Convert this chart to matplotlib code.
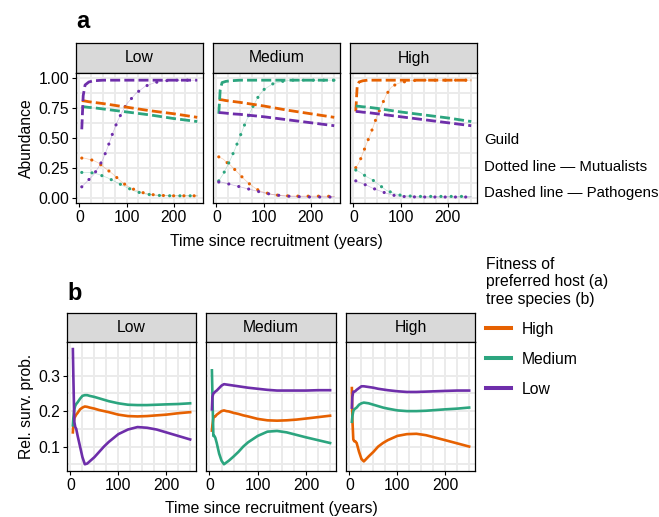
import matplotlib
matplotlib.use("Agg")
import matplotlib.pyplot as plt
from matplotlib.lines import Line2D
from matplotlib.ticker import MultipleLocator, FixedLocator

plt.rcParams['font.family'] = ['Liberation Sans', 'DejaVu Sans']

FS = 11.3

# facettes et niveaux de fitness
PANELS = ["Low", "Medium", "High"]
FITNESS = ["High", "Medium", "Low"]
COLORS = {"High": "#E66101", "Medium": "#2CA57F", "Low": "#6E2EAA"}

# --- a : abondance ---
T_MUT = [5, 10, 15, 20, 30, 40, 50, 60, 70, 80, 90, 100, 120, 140, 160, 180, 200, 225, 250]
T_PATH = [5, 8, 12, 20, 30, 50, 100, 150, 200, 250]

MUT_LOW = {
    "High":   [0.33, 0.33, 0.325, 0.32, 0.31, 0.29, 0.26, 0.23, 0.20, 0.165, 0.13, 0.10, 0.06, 0.035, 0.022, 0.017, 0.015, 0.015, 0.015],
    "Medium": [0.21, 0.21, 0.21, 0.21, 0.205, 0.195, 0.18, 0.165, 0.145, 0.125, 0.105, 0.085, 0.05, 0.03, 0.02, 0.016, 0.015, 0.015, 0.015],
    "Low":    [0.09, 0.11, 0.13, 0.15, 0.19, 0.25, 0.32, 0.42, 0.53, 0.63, 0.71, 0.78, 0.87, 0.93, 0.96, 0.975, 0.98, 0.98, 0.98],
}
MUT_MEDIUM = {
    "High":   [0.34, 0.33, 0.32, 0.30, 0.27, 0.23, 0.19, 0.15, 0.115, 0.085, 0.06, 0.045, 0.025, 0.016, 0.013, 0.012, 0.012, 0.012, 0.01],
    "Medium": [0.14, 0.17, 0.20, 0.24, 0.32, 0.41, 0.51, 0.61, 0.70, 0.78, 0.85, 0.90, 0.95, 0.97, 0.98, 0.98, 0.98, 0.98, 0.98],
    "Low":    [0.13, 0.13, 0.125, 0.12, 0.11, 0.10, 0.09, 0.08, 0.07, 0.06, 0.05, 0.04, 0.025, 0.015, 0.01, 0.007, 0.005, 0.005, 0.005],
}
MUT_HIGH = {
    "High":   [0.25, 0.28, 0.32, 0.37, 0.47, 0.57, 0.68, 0.77, 0.86, 0.92, 0.945, 0.96, 0.975, 0.98, 0.98, 0.98, 0.98, 0.98, 0.98],
    "Medium": [0.23, 0.22, 0.21, 0.195, 0.17, 0.15, 0.12, 0.09, 0.06, 0.045, 0.03, 0.02, 0.013, 0.01, 0.01, 0.01, 0.01, 0.01, 0.01],
    "Low":    [0.14, 0.13, 0.125, 0.115, 0.10, 0.08, 0.065, 0.05, 0.036, 0.025, 0.015, 0.01, 0.007, 0.005, 0.005, 0.005, 0.005, 0.005, 0.005],
}

PATH_LOW = {
    "High":   [0.81, 0.808, 0.806, 0.80, 0.795, 0.785, 0.755, 0.725, 0.70, 0.67],
    "Medium": [0.76, 0.758, 0.757, 0.753, 0.75, 0.74, 0.715, 0.69, 0.66, 0.635],
    "Low":    [0.57, 0.85, 0.94, 0.965, 0.975, 0.98, 0.98, 0.98, 0.98, 0.98],
}
PATH_MEDIUM = {
    "High":   [0.82, 0.818, 0.816, 0.81, 0.805, 0.795, 0.765, 0.73, 0.70, 0.67],
    "Medium": [0.70, 0.90, 0.96, 0.97, 0.975, 0.98, 0.98, 0.98, 0.98, 0.98],
    "Low":    [0.71, 0.709, 0.708, 0.705, 0.70, 0.695, 0.675, 0.65, 0.625, 0.60],
}
PATH_HIGH = {
    "High":   [0.72, 0.93, 0.965, 0.975, 0.98, 0.98, 0.98, 0.98, 0.98, 0.98],
    "Medium": [0.765, 0.763, 0.762, 0.758, 0.755, 0.745, 0.715, 0.69, 0.665, 0.635],
    "Low":    [0.72, 0.718, 0.717, 0.713, 0.71, 0.70, 0.675, 0.65, 0.625, 0.60],
}

# --- b : probabilite de survie relative ---
T_SURV = [5, 6, 8, 10, 12, 15, 20, 25, 30, 35, 40, 50, 60, 70, 80, 100, 120, 140, 160, 180, 200, 225, 250]

SURV_LOW = {
    "High":   [0.14, 0.16, 0.18, 0.185, 0.19, 0.195, 0.205, 0.21, 0.213, 0.212, 0.21, 0.207, 0.203, 0.2, 0.197, 0.19, 0.186, 0.185, 0.186, 0.188, 0.19, 0.194, 0.197],
    "Medium": [0.16, 0.18, 0.205, 0.215, 0.22, 0.225, 0.235, 0.243, 0.245, 0.245, 0.243, 0.24, 0.236, 0.232, 0.228, 0.222, 0.218, 0.217, 0.217, 0.218, 0.219, 0.22, 0.222],
    "Low":    [0.375, 0.3, 0.17, 0.155, 0.15, 0.13, 0.10, 0.07, 0.05, 0.052, 0.058, 0.07, 0.085, 0.1, 0.113, 0.135, 0.148, 0.155, 0.153, 0.148, 0.14, 0.13, 0.12],
}
SURV_MEDIUM = {
    "High":   [0.145, 0.16, 0.18, 0.185, 0.185, 0.19, 0.195, 0.2, 0.202, 0.2, 0.199, 0.195, 0.192, 0.188, 0.185, 0.178, 0.174, 0.173, 0.174, 0.176, 0.179, 0.183, 0.187],
    "Medium": [0.315, 0.25, 0.13, 0.13, 0.125, 0.11, 0.08, 0.06, 0.05, 0.055, 0.06, 0.072, 0.085, 0.1, 0.112, 0.13, 0.142, 0.144, 0.14, 0.133, 0.126, 0.118, 0.11],
    "Low":    [0.205, 0.24, 0.25, 0.252, 0.255, 0.258, 0.265, 0.272, 0.276, 0.275, 0.274, 0.272, 0.27, 0.268, 0.266, 0.263, 0.26, 0.258, 0.258, 0.258, 0.258, 0.259, 0.259],
}
SURV_HIGH = {
    "High":   [0.265, 0.18, 0.12, 0.115, 0.115, 0.11, 0.085, 0.065, 0.058, 0.065, 0.072, 0.085, 0.1, 0.11, 0.118, 0.13, 0.135, 0.136, 0.132, 0.125, 0.118, 0.109, 0.1],
    "Medium": [0.17, 0.185, 0.2, 0.205, 0.207, 0.21, 0.218, 0.222, 0.224, 0.223, 0.222, 0.218, 0.214, 0.21, 0.207, 0.202, 0.2, 0.2, 0.201, 0.203, 0.205, 0.207, 0.21],
    "Low":    [0.21, 0.24, 0.255, 0.255, 0.256, 0.26, 0.265, 0.27, 0.27, 0.269, 0.268, 0.266, 0.263, 0.261, 0.259, 0.256, 0.254, 0.254, 0.255, 0.256, 0.257, 0.258, 0.258],
}

A_YTICKS = [0.0, 0.25, 0.5, 0.75, 1.0]
B_YTICKS = [0.1, 0.2, 0.3]
X_TICKS = [0, 100, 200]

MUT = [MUT_LOW, MUT_MEDIUM, MUT_HIGH]
PATH = [PATH_LOW, PATH_MEDIUM, PATH_HIGH]
SURV = [SURV_LOW, SURV_MEDIUM, SURV_HIGH]

W, H = 659, 517
fig = plt.figure(figsize=(W / 100, H / 100), dpi=100)


def px_axes(x0, y0, x1, y1):
    # coordonnees en pixels (origine en haut a gauche)
    return fig.add_axes([x0 / W, 1 - y1 / H, (x1 - x0) / W, (y1 - y0) / H])


def style_panel(ax, ylim, yticks, yminor, first):
    ax.set_xlim(-7.25, 262.25)
    ax.set_ylim(*ylim)
    ax.xaxis.set_major_locator(FixedLocator(X_TICKS))
    ax.xaxis.set_minor_locator(MultipleLocator(25))
    ax.yaxis.set_major_locator(FixedLocator(yticks))
    ax.yaxis.set_minor_locator(MultipleLocator(yminor))
    ax.grid(True, which='both', color='#EBEBEB', lw=1.4, zorder=0)
    ax.set_axisbelow(True)
    ax.tick_params(which='major', length=3, width=0.8, labelsize=FS, pad=2, color='black')
    ax.tick_params(which='minor', length=0)
    for s in ax.spines.values():
        s.set_linewidth(0.9)
        s.set_color('black')
    if not first:
        ax.tick_params(axis='y', which='major', length=0, labelleft=False)


def strip(x0, y0, x1, y1, label):
    sa = px_axes(x0, y0, x1, y1)
    sa.set_facecolor('#D9D9D9')
    sa.set_xticks([])
    sa.set_yticks([])
    for s in sa.spines.values():
        s.set_linewidth(0.9)
    sa.text(0.5, 0.5, label, ha='center', va='center', fontsize=FS, transform=sa.transAxes)


# panneau a
A_X = [(76, 203), (213, 340), (350, 477)]
for i, name in enumerate(PANELS):
    x0, x1 = A_X[i]
    strip(x0, 43, x1, 73, name)
    ax = px_axes(x0, 73, x1, 203)
    style_panel(ax, (-0.045, 1.04), A_YTICKS, 0.125, i == 0)
    if i == 0:
        ax.yaxis.set_major_formatter(lambda v, p: f"{v:.2f}")
    for f in FITNESS:
        ax.plot(T_MUT, MUT[i][f], color=COLORS[f], lw=0.5, alpha=0.3, zorder=2)
        ax.plot(T_MUT, MUT[i][f], color=COLORS[f], lw=2.3, ls=(0, (0.01, 3.2)),
                dash_capstyle='round', zorder=3)
        ax.plot(T_PATH, PATH[i][f], color=COLORS[f], lw=2.0, ls=(0, (3.6, 1.5)), zorder=4)
    if i == 0:
        ax.set_ylabel("Abundance", fontsize=FS, labelpad=3)

fig.text(276 / W, 1 - 241 / H, "Time since recruitment (years)", ha='center', va='center', fontsize=FS)

# panneau b
B_X = [(67, 196), (206, 336), (346, 475)]
for i, name in enumerate(PANELS):
    x0, x1 = B_X[i]
    strip(x0, 313, x1, 342, name)
    ax = px_axes(x0, 342, x1, 471)
    style_panel(ax, (0.031, 0.395), B_YTICKS, 0.05, i == 0)
    for f in FITNESS:
        ax.plot(T_SURV, SURV[i][f], color=COLORS[f], lw=1.9, zorder=3)
    if i == 0:
        ax.set_ylabel("Rel. surv. prob.", fontsize=FS, labelpad=3)

fig.text(271 / W, 1 - 509 / H, "Time since recruitment (years)", ha='center', va='center', fontsize=FS)

# lettres des panneaux
fig.text(76 / W, 1 - 22 / H, "a", fontsize=17, fontweight='bold', ha='left', va='center')
fig.text(67 / W, 1 - 293 / H, "b", fontsize=17, fontweight='bold', ha='left', va='center')

# texte guilde
GFS = 10.8
fig.text(484 / W, 1 - 140 / H, "Guild", fontsize=GFS, va='center')
fig.text(484 / W, 1 - 167 / H, "Dotted line \u2014 Mutualists", fontsize=GFS, va='center')
fig.text(484 / W, 1 - 193 / H, "Dashed line \u2014 Pathogens", fontsize=GFS, va='center')

# legende
handles = [Line2D([], [], color=COLORS[f], lw=2.9) for f in FITNESS]
leg = fig.legend(handles, FITNESS, loc='upper left', bbox_to_anchor=(486 / W, 1 - 257 / H),
                 frameon=False, fontsize=FS, title="Fitness of\npreferred host (a)\ntree species (b)",
                 title_fontsize=FS, handlelength=1.6, handletextpad=0.68, labelspacing=0.95,
                 borderpad=0, borderaxespad=0, alignment='left')

fig.savefig("out.png", dpi=100)
